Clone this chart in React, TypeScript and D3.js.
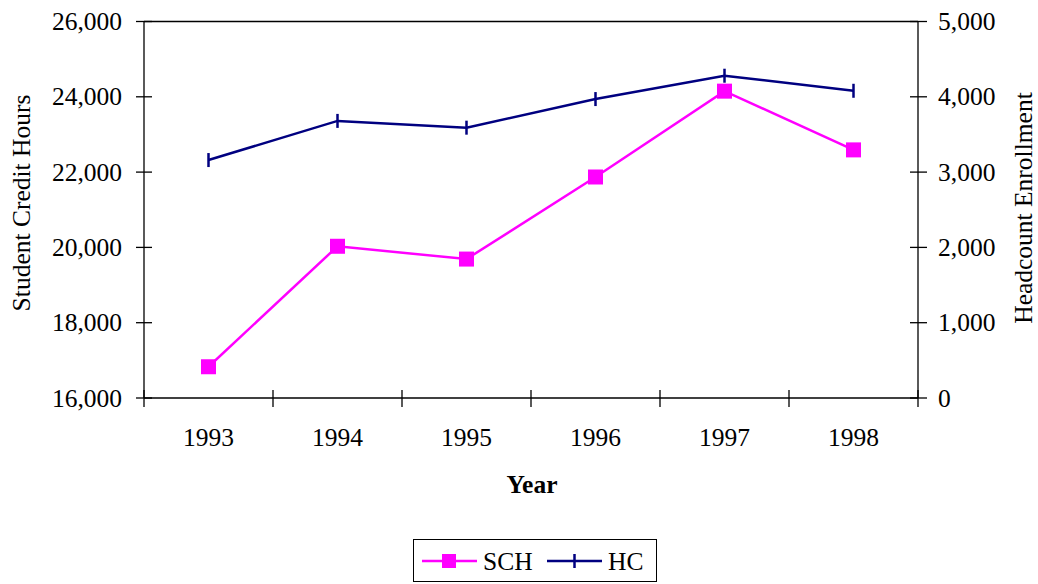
import React, { useRef, useEffect } from 'react'
import * as d3 from 'd3'

const years = ['1993', '1994', '1995', '1996', '1997', '1998']
const schValues = [16830, 20030, 19690, 21870, 24150, 22590]
const hcValues = [3160, 3680, 3590, 3970, 4280, 4080]
const leftTicks = [16000, 18000, 20000, 22000, 24000, 26000]
const rightTicks = [0, 1000, 2000, 3000, 4000, 5000]

const width = 1038
const height = 584

export default function App() {
  const svgRef = useRef<SVGSVGElement>(null)

  useEffect(() => {
    if (!svgRef.current) return
    const svg = d3.select(svgRef.current)
    svg.selectAll('*').remove()

    const left = 144
    const right = 918
    const top = 21.5
    const bottom = 398
    const fs = 25.5

    const x = d3.scaleBand<string>().domain(years).range([left, right])
    const yL = d3.scaleLinear().domain([16000, 26000]).range([bottom, top])
    const yR = d3.scaleLinear().domain([0, 5000]).range([bottom, top])
    const fmt = d3.format(',')

    const g = svg.append('g')
      .style('font-family', "'Liberation Serif', 'Times New Roman', Times, serif")
      .attr('fill', '#000')

    // plot frame
    const frame: [number, number, number, number][] = [
      [left, top, right, top],
      [left, top, left, bottom],
      [right, top, right, bottom],
      [left, bottom, right, bottom],
    ]
    frame.forEach(([x1, y1, x2, y2]) => {
      g.append('line')
        .attr('x1', x1).attr('y1', y1).attr('x2', x2).attr('y2', y2)
        .attr('stroke', '#000').attr('stroke-width', 1.3)
    })

    // left ticks
    leftTicks.forEach(t => {
      g.append('line')
        .attr('x1', left - 8).attr('x2', left + 8)
        .attr('y1', yL(t)).attr('y2', yL(t))
        .attr('stroke', '#000').attr('stroke-width', 1.3)
      g.append('text')
        .attr('x', left - 22).attr('y', yL(t))
        .attr('dy', '0.34em')
        .attr('text-anchor', 'end')
        .attr('font-size', fs)
        .text(fmt(t))
    })

    // right ticks
    rightTicks.forEach(t => {
      g.append('line')
        .attr('x1', right - 8).attr('x2', right + 9)
        .attr('y1', yR(t)).attr('y2', yR(t))
        .attr('stroke', '#000').attr('stroke-width', 1.3)
      g.append('text')
        .attr('x', right + 20).attr('y', yR(t))
        .attr('dy', '0.34em')
        .attr('text-anchor', 'start')
        .attr('font-size', fs)
        .text(fmt(t))
    })

    // category boundary ticks
    const bounds = years.map(d => x(d) as number).concat([right])
    bounds.forEach(b => {
      g.append('line')
        .attr('x1', b).attr('x2', b)
        .attr('y1', bottom - 8).attr('y2', bottom + 9)
        .attr('stroke', '#000').attr('stroke-width', 1.3)
    })
    const cx = (d: string) => (x(d) as number) + x.bandwidth() / 2
    years.forEach(d => {
      g.append('text')
        .attr('x', cx(d))
        .attr('y', 446)
        .attr('text-anchor', 'middle')
        .attr('font-size', fs)
        .text(d)
    })

    // axis titles
    g.append('text')
      .attr('x', 532).attr('y', 493)
      .attr('text-anchor', 'middle')
      .attr('font-size', fs)
      .attr('font-weight', 'bold')
      .text('Year')
    g.append('text')
      .attr('transform', 'translate(30,203) rotate(-90)')
      .attr('text-anchor', 'middle')
      .attr('font-size', fs)
      .text('Student Credit Hours')
    g.append('text')
      .attr('transform', 'translate(1032,208) rotate(-90)')
      .attr('text-anchor', 'middle')
      .attr('font-size', fs)
      .text('Headcount Enrollment')

    // HC series
    const hcLine = d3.line<number>()
      .x((_, i) => cx(years[i]))
      .y(v => yR(v))
    g.append('path')
      .attr('d', hcLine(hcValues))
      .attr('fill', 'none')
      .attr('stroke', '#000080')
      .attr('stroke-width', 2.5)
    hcValues.forEach((v, i) => {
      g.append('line')
        .attr('x1', cx(years[i])).attr('x2', cx(years[i]))
        .attr('y1', yR(v) - 7).attr('y2', yR(v) + 7)
        .attr('stroke', '#000080').attr('stroke-width', 2.5)
    })

    // SCH series
    const schLine = d3.line<number>()
      .x((_, i) => cx(years[i]))
      .y(v => yL(v))
    g.append('path')
      .attr('d', schLine(schValues))
      .attr('fill', 'none')
      .attr('stroke', '#FF00FF')
      .attr('stroke-width', 2.5)
    schValues.forEach((v, i) => {
      g.append('rect')
        .attr('x', cx(years[i]) - 7.5).attr('y', yL(v) - 7.5)
        .attr('width', 15).attr('height', 15)
        .attr('fill', '#FF00FF')
    })

    // legend
    const lg = g.append('g')
    lg.append('rect')
      .attr('x', 413.5).attr('y', 539.5)
      .attr('width', 243).attr('height', 42)
      .attr('fill', '#fff').attr('stroke', '#000').attr('stroke-width', 1)
    const ly = 561
    lg.append('line')
      .attr('x1', 422).attr('x2', 477).attr('y1', ly).attr('y2', ly)
      .attr('stroke', '#FF00FF').attr('stroke-width', 2.5)
    lg.append('rect')
      .attr('x', 442).attr('y', ly - 7).attr('width', 14).attr('height', 14)
      .attr('fill', '#FF00FF')
    lg.append('text')
      .attr('x', 483).attr('y', ly).attr('dy', '0.34em')
      .attr('font-size', fs).text('SCH')
    lg.append('line')
      .attr('x1', 547).attr('x2', 602).attr('y1', ly).attr('y2', ly)
      .attr('stroke', '#000080').attr('stroke-width', 2.5)
    lg.append('line')
      .attr('x1', 574.5).attr('x2', 574.5).attr('y1', ly - 7).attr('y2', ly + 7)
      .attr('stroke', '#000080').attr('stroke-width', 2.5)
    lg.append('text')
      .attr('x', 608).attr('y', ly).attr('dy', '0.34em')
      .attr('font-size', fs).text('HC')
  }, [])

  return (
    <svg
      ref={svgRef}
      width={width}
      height={height}
      style={{ position: 'absolute', left: 0, top: 0, background: '#fff' }}
    />
  )
}
